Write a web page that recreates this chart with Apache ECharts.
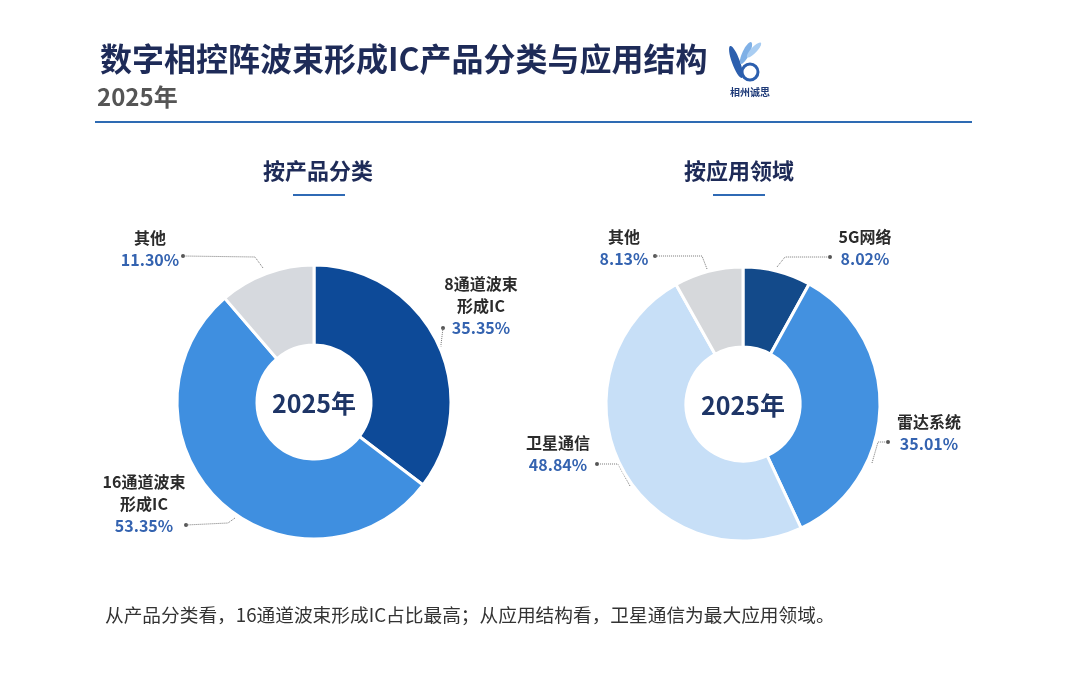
<!DOCTYPE html>
<html>
<head>
<meta charset="utf-8">
<script src="https://cdn.jsdelivr.net/npm/echarts@6/dist/echarts.min.js"></script>
<style>
  html, body { margin: 0; padding: 0; background: #fff; }
  #chart { width: 1074px; height: 684px; }
</style>
</head>
<body>
<div id="chart"></div>
<script>
// data
var productNames = ['8通道波束\n形成IC', '16通道波束\n形成IC', '其他'];
var productShares = [35.35, 53.35, 11.30];
var appNames = ['5G网络', '雷达系统', '卫星通信', '其他'];
var appShares = [8.02, 35.01, 48.84, 8.13];
var yearLabel = '2025年';

var productColors = ['#0d4a98', '#3f8fe0', '#d6d9de'];
var appColors = ['#134a8a', '#4391e0', '#c7dff7', '#d6d8db'];

var FONT = '"Noto Sans CJK SC", "Noto Sans", sans-serif';
var NAVY = '#1e2b58';

// pie geometry + where each callout sits (offsets from the pie centre)
var leftCenter = [314, 402];
var rightCenter = [743, 404];
var leftSpots = [
  { line: [[106, -28], [119, -32], [126, -49], [129, -74]], text: [167, -63] },
  { line: [[-79, 116], [-86, 121], [-128, 123]], text: [-170, 135] },
  { line: [[-51, -134], [-59, -145], [-131, -146]], text: [-164, -131] }
];
var rightSpots = [
  { line: [[34, -137], [42, -147], [87, -147]], text: [122, -134] },
  { line: [[129, 59], [135, 38], [145, 38]], text: [186, 51] },
  { line: [[-113, 82], [-125, 60], [-146, 60]], text: [-185, 72] },
  { line: [[-36, -135], [-41, -148], [-88, -148]], text: [-119, -134] }
];

function labelText(p) {
  var lines = p.name.split('\n').map(function (s) { return '{n|' + s + '}'; });
  lines.push('{p|' + p.value.toFixed(2) + '%}');
  return lines.join('\n');
}

function makeLayout(center, spots) {
  return function (params) {
    var s = spots[params.dataIndex];
    return {
      x: center[0] + s.text[0],
      y: center[1] + s.text[1],
      align: 'center',
      verticalAlign: 'bottom',
      labelLinePoints: s.line.map(function (q) { return [center[0] + q[0], center[1] + q[1]]; })
    };
  };
}

function pieSeries(names, values, colors, center, spots) {
  return {
    type: 'pie',
    center: center,
    radius: [57, 137],
    startAngle: 90,
    clockwise: true,
    silent: true,
    avoidLabelOverlap: false,
    itemStyle: { borderColor: '#fff', borderWidth: 3 },
    label: {
      show: true,
      position: 'outside',
      formatter: labelText,
      rich: {
        n: { fontFamily: FONT, fontSize: 16, fontWeight: 'bold', color: '#2b2b2b', lineHeight: 22 },
        p: { fontFamily: FONT, fontSize: 16, fontWeight: 'bold', color: '#3463b0', lineHeight: 22 }
      }
    },
    labelLine: { show: true, lineStyle: { type: 'dotted', color: '#777', width: 1 } },
    labelLayout: makeLayout(center, spots),
    data: names.map(function (n, i) {
      return { name: n, value: values[i], itemStyle: { color: colors[i] } };
    })
  };
}

function dots(center, spots) {
  return spots.map(function (s) {
    var q = s.line[s.line.length - 1];
    return {
      type: 'circle',
      shape: { cx: center[0] + q[0], cy: center[1] + q[1], r: 2 },
      style: { fill: '#555' }
    };
  });
}

var graphics = [
  { type: 'text', x: 100, y: 59, style: { text: '数字相控阵波束形成IC产品分类与应用结构', font: 'bold 32px ' + FONT, fill: NAVY, verticalAlign: 'middle' } },
  { type: 'text', x: 97, y: 97, style: { text: yearLabel, font: 'bold 24px ' + FONT, fill: '#555', verticalAlign: 'middle' } },
  { type: 'rect', shape: { x: 95, y: 121, width: 877, height: 2 }, style: { fill: '#2e6bb3' } },

  // logo
  { type: 'ellipse', x: 736, y: 62, rotation: 0.35, shape: { cx: 0, cy: 0, rx: 4, ry: 17 }, style: { fill: '#2c5fae' } },
  { type: 'ellipse', x: 746, y: 53, rotation: -0.45, shape: { cx: 0, cy: 0, rx: 3.5, ry: 12 }, style: { fill: '#7fb0e6' } },
  { type: 'ellipse', x: 754, y: 50, rotation: -0.75, shape: { cx: 0, cy: 0, rx: 3, ry: 10 }, style: { fill: '#a9cdf2' } },
  { type: 'circle', shape: { cx: 750, cy: 72, r: 8 }, style: { fill: 'none', stroke: '#2c5fae', lineWidth: 3 } },
  { type: 'text', x: 750, y: 92, style: { text: '相州诚思', font: 'bold 10px ' + FONT, fill: '#1e3a78', align: 'center', verticalAlign: 'middle' } },

  // section headers
  { type: 'text', x: 318, y: 171, style: { text: '按产品分类', font: 'bold 22px ' + FONT, fill: NAVY, align: 'center', verticalAlign: 'middle' } },
  { type: 'rect', shape: { x: 293, y: 194, width: 52, height: 2 }, style: { fill: '#2f6ab5' } },
  { type: 'text', x: 739, y: 171, style: { text: '按应用领域', font: 'bold 22px ' + FONT, fill: NAVY, align: 'center', verticalAlign: 'middle' } },
  { type: 'rect', shape: { x: 713, y: 194, width: 52, height: 2 }, style: { fill: '#2f6ab5' } },

  // centre captions
  { type: 'text', x: leftCenter[0], y: leftCenter[1] + 1, style: { text: yearLabel, font: 'bold 25px ' + FONT, fill: '#1e3566', align: 'center', verticalAlign: 'middle' } },
  { type: 'text', x: rightCenter[0], y: rightCenter[1] + 1, style: { text: yearLabel, font: 'bold 25px ' + FONT, fill: '#1e3566', align: 'center', verticalAlign: 'middle' } },

  // footer
  { type: 'text', x: 105, y: 615, style: { text: '从产品分类看，16通道波束形成IC占比最高；从应用结构看，卫星通信为最大应用领域。', font: '18.7px ' + FONT, fill: '#333', verticalAlign: 'middle' } }
].concat(dots(leftCenter, leftSpots), dots(rightCenter, rightSpots));

var chart = echarts.init(document.getElementById('chart'));
chart.setOption({
  backgroundColor: '#fff',
  animation: false,
  graphic: graphics,
  series: [
    pieSeries(productNames, productShares, productColors, leftCenter, leftSpots),
    pieSeries(appNames, appShares, appColors, rightCenter, rightSpots)
  ]
});
</script>
</body>
</html>
